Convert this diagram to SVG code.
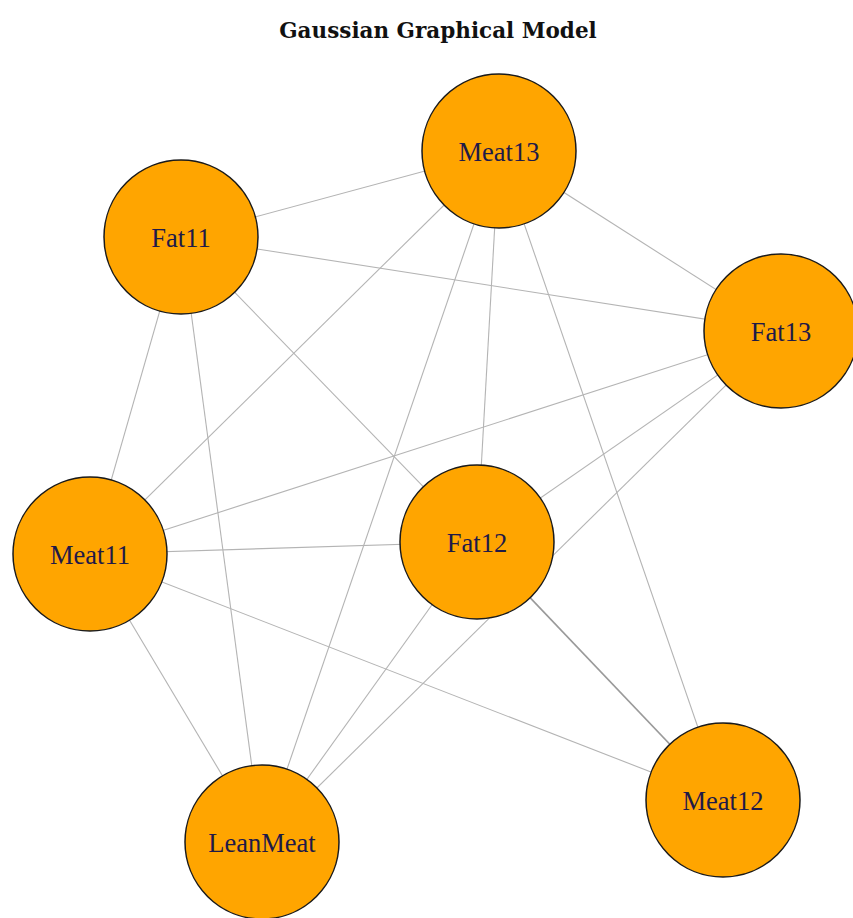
<svg xmlns="http://www.w3.org/2000/svg" width="853" height="918" viewBox="0 0 853 918">
<style>
.e{stroke:#b4b4b4;stroke-width:1.1;fill:none}
.n circle{fill:#FFA500;stroke:#1a1a1a;stroke-width:1.5}
.n text{font-family:"Liberation Serif","Times New Roman",serif;font-size:26.5px;fill:#1f1a48;text-anchor:middle}
.t{font-family:"DejaVu Serif","Liberation Serif",serif;font-weight:bold;font-size:21.5px;fill:#111;text-anchor:middle}
</style>
<rect width="853" height="918" fill="#fff"/>
<text class="t" x="438" y="38">Gaussian Graphical Model</text>
<g id="edges">
<line class="e" x1="181" y1="237" x2="499" y2="151"/>
<line class="e" x1="181" y1="237" x2="781" y2="331"/>
<line class="e" x1="181" y1="237" x2="477" y2="542"/>
<line class="e" x1="181" y1="237" x2="90" y2="554"/>
<line class="e" x1="181" y1="237" x2="262" y2="842"/>
<line class="e" x1="499" y1="151" x2="90" y2="554"/>
<line class="e" x1="499" y1="151" x2="262" y2="842"/>
<line class="e" x1="499" y1="151" x2="477" y2="542"/>
<line class="e" x1="499" y1="151" x2="723" y2="800"/>
<line class="e" x1="499" y1="151" x2="781" y2="331"/>
<line class="e" x1="781" y1="331" x2="90" y2="554"/>
<line class="e" x1="781" y1="331" x2="477" y2="542"/>
<line class="e" x1="781" y1="331" x2="262" y2="842"/>
<line class="e" x1="90" y1="554" x2="477" y2="542"/>
<line class="e" x1="90" y1="554" x2="723" y2="800"/>
<line class="e" x1="90" y1="554" x2="262" y2="842"/>
<line class="e" x1="477" y1="542" x2="262" y2="842"/>
<line class="e" x1="477" y1="542" x2="723" y2="800" style="stroke:#9a9a9a;stroke-width:1.6"/>
</g>
<g id="Meat13" class="n"><circle cx="499" cy="151" r="77"/><text x="499" y="161">Meat13</text></g>
<g id="Fat11" class="n"><circle cx="181" cy="237" r="77"/><text x="181" y="247">Fat11</text></g>
<g id="Fat13" class="n"><circle cx="781" cy="331" r="77"/><text x="781" y="341">Fat13</text></g>
<g id="Meat11" class="n"><circle cx="90" cy="554" r="77"/><text x="90" y="564">Meat11</text></g>
<g id="Fat12" class="n"><circle cx="477" cy="542" r="77"/><text x="477" y="552">Fat12</text></g>
<g id="Meat12" class="n"><circle cx="723" cy="800" r="77"/><text x="723" y="810">Meat12</text></g>
<g id="LeanMeat" class="n"><circle cx="262" cy="842" r="77"/><text x="262" y="852">LeanMeat</text></g>
</svg>
